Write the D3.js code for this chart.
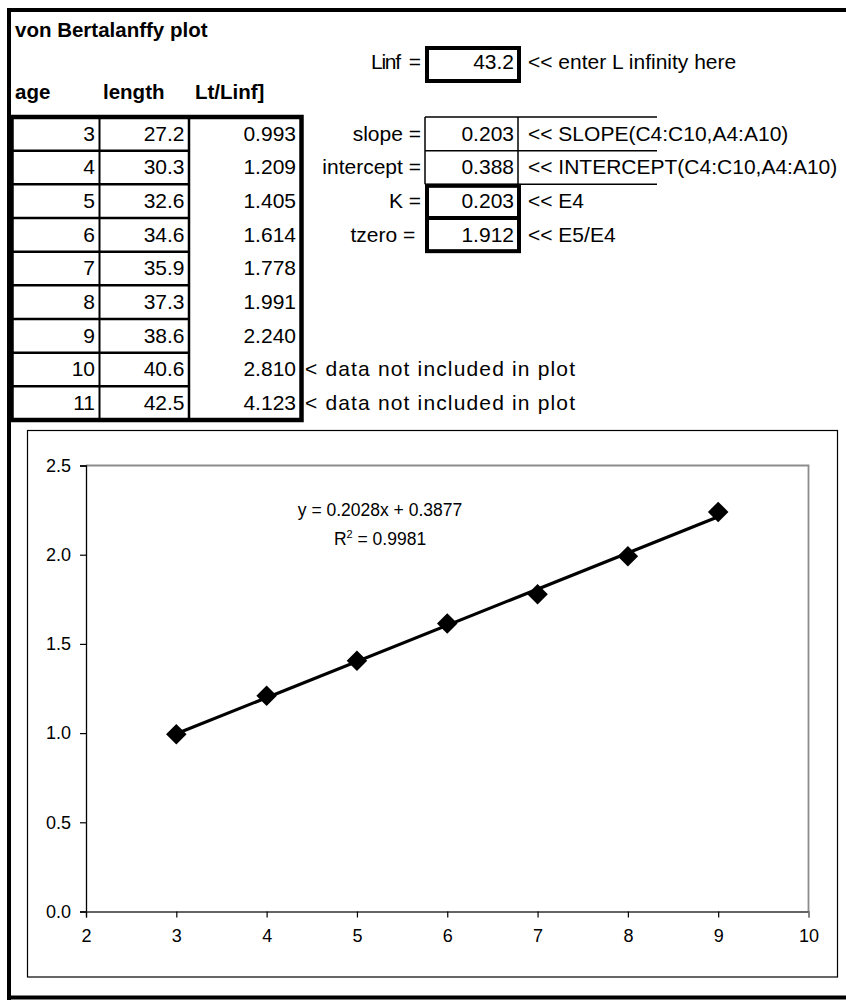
<!DOCTYPE html>
<html><head><meta charset="utf-8">
<script src="https://cdn.jsdelivr.net/npm/d3@7"></script>
<style>
html,body{margin:0;padding:0;background:#fff;}
svg text{font-family:"Liberation Sans",Arial,sans-serif;fill:#000;white-space:pre;}
</style></head>
<body><svg id="c" width="846" height="1000"></svg>
<script>
// ---- data ----
const title = "von Bertalanffy plot";
const headers = ["age", "length", "Lt/Linf]"];
const ages = [3, 4, 5, 6, 7, 8, 9, 10, 11];
const lengths = ["27.2", "30.3", "32.6", "34.6", "35.9", "37.3", "38.6", "40.6", "42.5"];
const ratios = [0.993, 1.209, 1.405, 1.614, 1.778, 1.991, 2.240, 2.810, 4.123];
const plottedCount = 7;
const linfLabel = "Linf  =";
const linfValue = "43.2";
const linfNote = "<< enter L infinity here";
const paramLabels = ["slope =", "intercept =", "K =", "tzero = "];
const paramValues = ["0.203", "0.388", "0.203", "1.912"];
const paramNotes = ["<< SLOPE(C4:C10,A4:A10)", "<< INTERCEPT(C4:C10,A4:A10)", "<< E4", "<< E5/E4"];
const excludedNote = "< data not included in plot";
const trendSlope = 0.2028;
const trendIntercept = 0.3877;
const trendRange = [3, 9];
const eqText = "y = 0.2028x + 0.3877";
const r2Text = " = 0.9981";
const xTicks = [2, 3, 4, 5, 6, 7, 8, 9, 10];
const yTicks = [0, 0.5, 1.0, 1.5, 2.0, 2.5];

// ---- drawing ----
const svg = d3.select("#c");
const FS = 21;

// outer frame
svg.append("path").attr("d", "M9,1002 L9,10 L850,10").attr("fill","none").attr("stroke","#000").attr("stroke-width",4);
svg.append("line").attr("x1",7).attr("x2",850).attr("y1",997.5).attr("y2",997.5).attr("stroke","#000").attr("stroke-width",4);

// title & header
svg.append("text").attr("x",15).attr("y",37).attr("font-size",20.5).attr("font-weight","bold").text(title);
const hx = [15, 103, 195];
svg.selectAll("text.hdr").data(headers).join("text").attr("class","hdr")
  .attr("x",(d,i)=>hx[i]).attr("y",99).attr("font-size",20.5).attr("font-weight","bold").text(d=>d);

// table rows
const tableTop = 117, tableBottom = 420;
const row = d3.scaleBand().domain(d3.range(ages.length)).range([tableTop, tableBottom]);
const rb = i => row(i) + row.bandwidth() - 10;
const tbl = svg.append("g");
tbl.selectAll("line.rl").data(d3.range(1, ages.length)).join("line")
  .attr("x1",12).attr("x2",189).attr("y1",i=>row(i)).attr("y2",i=>row(i))
  .attr("stroke","#000").attr("stroke-width",2.5);
[[99.5,2],[189,2.5]].forEach(([x,w])=>tbl.append("line").attr("x1",x).attr("x2",x).attr("y1",tableTop).attr("y2",tableBottom).attr("stroke","#000").attr("stroke-width",w));
tbl.append("rect").attr("x",11.5).attr("y",tableTop).attr("width",301.5-11.5).attr("height",tableBottom-tableTop)
  .attr("fill","none").attr("stroke","#000").attr("stroke-width",4.5);

const cells = svg.append("g").attr("text-anchor","end");
cells.selectAll("text.a").data(ages).join("text").attr("class","a").attr("x",95).attr("y",(d,i)=>rb(i)).attr("font-size",FS).text(d=>d);
cells.selectAll("text.l").data(lengths).join("text").attr("class","l").attr("x",184.5).attr("y",(d,i)=>rb(i)).attr("font-size",FS).text(d=>d);
cells.selectAll("text.r").data(ratios).join("text").attr("class","r").attr("x",296).attr("y",(d,i)=>rb(i)).attr("font-size",FS).text(d=>d3.format(".3f")(d));
svg.selectAll("text.ex").data(ages.slice(plottedCount)).join("text").attr("class","ex")
  .attr("x",305).attr("y",(d,i)=>rb(plottedCount+i)).attr("font-size",FS)
  .attr("textLength",270).attr("lengthAdjust","spacing").text(excludedNote);

// Linf
svg.append("text").attr("x",371).attr("y",69).attr("font-size",FS)
  .attr("textLength",50).attr("lengthAdjust","spacing").text(linfLabel);
svg.append("rect").attr("x",427).attr("y",48).attr("width",92).attr("height",33).attr("fill","none").attr("stroke","#000").attr("stroke-width",4);
svg.append("text").attr("x",514).attr("y",69).attr("text-anchor","end").attr("font-size",FS).text(linfValue);
svg.append("text").attr("x",528).attr("y",69).attr("font-size",FS).text(linfNote);

// parameter block
const pg = svg.append("g");
[0,1,2].forEach(k=>pg.append("line").attr("x1",425).attr("x2",657).attr("y1",row(k)).attr("y2",row(k)).attr("stroke","#000").attr("stroke-width",1.5));
[425,518].forEach(x=>pg.append("line").attr("x1",x).attr("x2",x).attr("y1",row(0)).attr("y2",row(2)).attr("stroke","#000").attr("stroke-width",1.5));
pg.append("rect").attr("x",427).attr("y",row(2)+1.5).attr("width",92).attr("height",row(4)-row(2)-2).attr("fill","none").attr("stroke","#000").attr("stroke-width",4);
pg.append("line").attr("x1",427).attr("x2",519).attr("y1",row(3)).attr("y2",row(3)).attr("stroke","#000").attr("stroke-width",4);
pg.selectAll("text.pl").data(paramLabels).join("text").attr("class","pl").attr("x",421).attr("y",(d,i)=>rb(i)).attr("text-anchor","end").attr("font-size",FS)
  .text(d=>d);
pg.selectAll("text.pv").data(paramValues).join("text").attr("class","pv").attr("x",514).attr("y",(d,i)=>rb(i)).attr("text-anchor","end").attr("font-size",FS).text(d=>d);
pg.selectAll("text.pn").data(paramNotes).join("text").attr("class","pn").attr("x",528).attr("y",(d,i)=>rb(i)).attr("font-size",FS).text(d=>d);

// chart box
svg.append("rect").attr("x",27.5).attr("y",430.5).attr("width",810).attr("height",546.5).attr("fill","#fff").attr("stroke","#000").attr("stroke-width",1.2);

const x = d3.scaleLinear().domain([2,10]).range([86,808.5]);
const y = d3.scaleLinear().domain([0,2.5]).range([911.5,465.5]);

svg.append("path").attr("d",`M${x(2)},${y(2.5)} L${x(10)},${y(2.5)} L${x(10)},${y(0)}`).attr("fill","none").attr("stroke","#8c8c8c").attr("stroke-width",1.8);

const yAxis = svg.append("g").attr("transform",`translate(${x(2)},0)`)
  .call(d3.axisLeft(y).tickValues(yTicks).tickFormat(d3.format(".1f")).tickSize(6).tickPadding(9));
const xAxis = svg.append("g").attr("transform",`translate(0,${y(0)})`)
  .call(d3.axisBottom(x).tickValues(xTicks).tickFormat(d3.format("d")).tickSize(6).tickPadding(12));
[yAxis,xAxis].forEach(a=>{
  a.selectAll("path.domain").attr("stroke","#000").attr("stroke-width",1.3);
  a.selectAll(".tick line").attr("stroke","#000").attr("stroke-width",1.2);
  a.selectAll(".tick text").attr("font-size",18).attr("font-family","Liberation Sans, Arial, sans-serif").attr("fill","#000");
});
xAxis.selectAll(".tick text").attr("dy","0.71em");
xAxis.selectAll(".tick").filter(d=>d===10).select("line").attr("stroke","#8c8c8c");
xAxis.selectAll("path.domain").attr("stroke","#333");

const line = d3.line().x(d=>x(d)).y(d=>y(trendSlope*d+trendIntercept));
svg.append("path").datum(trendRange).attr("d",line).attr("fill","none").attr("stroke","#000").attr("stroke-width",3.2);

const pts = ages.slice(0,plottedCount).map((a,i)=>[a,ratios[i]]);
svg.selectAll("path.m").data(pts).join("path").attr("class","m")
  .attr("d",d3.symbol(d3.symbolSquare,210))
  .attr("transform",d=>`translate(${x(d[0])},${y(d[1])}) rotate(45)`).attr("fill","#000");

const eq = svg.append("g").attr("text-anchor","middle");
eq.append("text").attr("x",380).attr("y",516).attr("font-size",17.5).text(eqText);
const r2 = eq.append("text").attr("x",380).attr("y",545).attr("font-size",17.5);
r2.append("tspan").text("R");
r2.append("tspan").attr("dy",-7).attr("font-size",11).text("2");
r2.append("tspan").attr("dy",7).text(r2Text);
</script></body></html>
